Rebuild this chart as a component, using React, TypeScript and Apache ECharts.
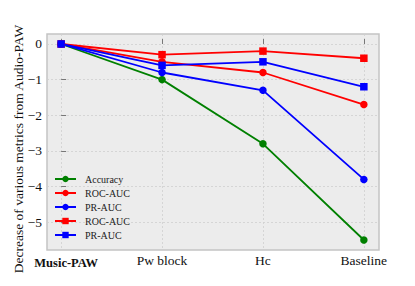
import React, { useEffect, useRef } from "react";
import * as echarts from "echarts";

const categories = ["Music-PAW", "Pw block", "Hc", "Baseline"];
const accuracy = [0, -1.0, -2.8, -5.5];
const rocAucCircle = [0, -0.5, -0.8, -1.7];
const prAucCircle = [0, -0.8, -1.3, -3.8];
const rocAucSquare = [0, -0.3, -0.2, -0.4];
const prAucSquare = [0, -0.6, -0.5, -1.2];
const yTicks = [0, -1, -2, -3, -4, -5];

const FONT = "'Liberation Serif', 'Times New Roman', serif";

function mk(name: string, data: number[], color: string, symbol: string, size: number) {
  return {
    type: "line",
    name,
    data: data.map((v, i) => [i, v]),
    symbol,
    symbolSize: size,
    lineStyle: { color, width: 1.8 },
    itemStyle: { color },
    z: 3,
  };
}

export default function App() {
  const ref = useRef<HTMLDivElement>(null);
  useEffect(() => {
    const chart = echarts.init(ref.current!, null, { renderer: "svg" });
    chart.setOption({
      animation: false,
      textStyle: { fontFamily: FONT },
      grid: {
        left: 47,
        right: 36,
        top: 34,
        bottom: 36,
        show: true,
        backgroundColor: "#ececec",
        borderColor: "#c4c4c4",
        borderWidth: 1.5,
      },
      graphic: [
        {
          type: "text",
          x: 18,
          y: 149,
          rotation: Math.PI / 2,
          style: {
            text: "Decrease of various metrics from Audio-PAW",
            fontFamily: FONT,
            fontSize: 13.5,
            fill: "#111",
            textAlign: "center",
            textVerticalAlign: "middle",
          },
        },
      ],
      legend: {
        orient: "vertical",
        left: 49,
        top: 169,
        itemWidth: 21,
        itemHeight: 8,
        itemGap: 4,
        textStyle: { fontFamily: FONT, fontSize: 10, color: "#222", padding: [0, 0, 0, 4] },
        formatter: (n: string) => n.trim(),
        data: ["Accuracy", "ROC-AUC", "PR-AUC", "ROC-AUC ", "PR-AUC "],
      },
      xAxis: {
        type: "value",
        min: -0.14,
        max: 3.15,
        axisLine: { show: false },
        axisTick: {
          show: true,
          inside: true,
          length: 5,
          customValues: [0, 1, 2, 3],
          lineStyle: { color: "#777" },
        },
        axisLabel: {
          customValues: [0, 1, 2, 3],
          margin: 3,
          fontSize: 13.5,
          color: "#111",
          fontFamily: FONT,
          formatter: (v: number) => {
            const c = categories[Math.round(v)] ?? "";
            return Math.round(v) === 0 ? "{b|" + c + "}" : c;
          },
          rich: {
            b: { fontWeight: "bold", fontSize: 12.5, fontFamily: FONT, color: "#111", padding: [3, 0, 0, 10] },
          },
        },
        splitLine: { show: true, lineStyle: { color: "#cfcfcf", type: [2, 2], width: 0.8 } },
      },
      yAxis: {
        type: "value",
        min: -5.78,
        max: 0.28,
        axisLine: { show: false },
        axisTick: {
          show: true,
          inside: true,
          length: 5,
          customValues: yTicks,
          lineStyle: { color: "#777" },
        },
        axisLabel: {
          customValues: yTicks,
          margin: 5,
          fontSize: 13.5,
          color: "#111",
          fontFamily: FONT,
          formatter: (v: number) => (v < 0 ? "\u2212" + Math.abs(v) : String(v)),
        },
        splitLine: { show: true, lineStyle: { color: "#cfcfcf", type: [2, 2], width: 0.8 } },
      },
      series: [
        mk("Accuracy", accuracy, "#008000", "circle", 7.5),
        mk("ROC-AUC", rocAucCircle, "#ff0000", "circle", 7.5),
        mk("PR-AUC", prAucCircle, "#0000ff", "circle", 7.5),
        mk("ROC-AUC ", rocAucSquare, "#ff0000", "rect", 7.5),
        mk("PR-AUC ", prAucSquare, "#0000ff", "rect", 7.5),
      ],
    });
    return () => chart.dispose();
  }, []);
  return (
    <div
      ref={ref}
      style={{ position: "absolute", left: 0, top: 0, width: 415, height: 286 }}
    />
  );
}
